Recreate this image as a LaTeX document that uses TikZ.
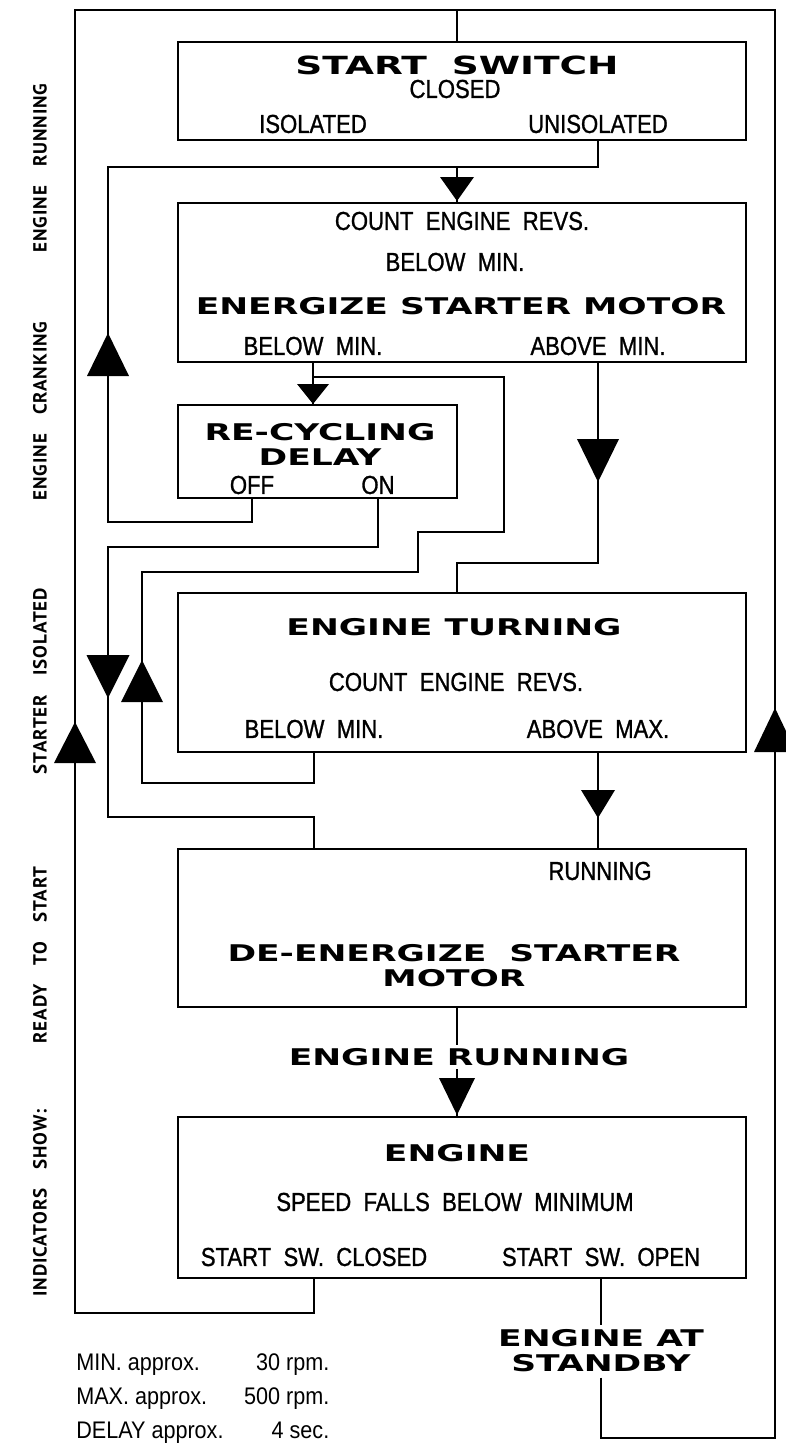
\documentclass[tikz,border=0pt]{standalone}
\usepackage{fontspec}
\usetikzlibrary{positioning}
\newfontfamily\flowfont[FakeStretch=0.85,WordSpace=2,FakeBold=1]{Liberation Sans}
\newfontfamily\headfont[FakeStretch=1.5]{DejaVu Sans}
\newfontfamily\sidefont[LetterSpace=5]{PT Sans}
\newfontfamily\notefont[FakeStretch=0.9]{Liberation Sans}

% filled flow arrows: x, base y, width, length
\newcommand{\tridown}[4]{\fill ({#1-#3/2},#2) -- ({#1+#3/2},#2) -- (#1,{#2+#4}) -- cycle;}
\newcommand{\triup}[4]{\fill ({#1-#3/2},#2) -- ({#1+#3/2},#2) -- (#1,{#2-#4}) -- cycle;}

\begin{document}
\begin{tikzpicture}[x=1pt, y=-1pt,
    line width=2.6pt,
    box/.style={draw, minimum width=568pt, inner sep=0pt},
    txt/.style={inner sep=0pt, font=\flowfont\fontsize{26}{26}\selectfont},
    head/.style={inner sep=0pt, align=center, font=\headfont\bfseries\fontsize{23}{25}\selectfont},
    side/.style={rotate=90, inner sep=0pt, font=\sidefont\bfseries\fontsize{19}{19}\selectfont}
  ]
    \useasboundingbox (0,0) rectangle (785,1445);

    % boxes
    \node[box, minimum height=98pt]  (sw)   at (462,91) {};
    \node[box, minimum height=159pt] (cnt)  at (462,282.5) {};
    \node[box, minimum width=279pt, minimum height=93pt] (rcy) at (317.5,451.5) {};
    \node[box, minimum height=159pt] (turn) at (462,672.5) {};
    \node[box, minimum height=158pt] (deen) at (462,928) {};
    \node[box, minimum height=161pt] (eng)  at (462,1197.5) {};

    % box texts
    \node[head, font=\headfont\bfseries\fontsize{25}{25}\selectfont] at (457,65) {START\quad SWITCH};
    \node[txt] at (455,89) {CLOSED};
    \node[txt] (iso)    at (313,124) {ISOLATED};
    \node[txt] (unisol) at (598,124) {UNISOLATED};

    \node[txt]  at (462,221) {COUNT ENGINE REVS.};
    \node[txt]  at (455,262) {BELOW MIN.};
    \node[head] at (461,306) {ENERGIZE STARTER MOTOR};
    \node[txt] (cbm) at (313,346) {BELOW MIN.};
    \node[txt] (cam) at (598,346) {ABOVE MIN.};

    \node[head] at (320,444) {RE-CYCLING\\DELAY};
    \node[txt] (off) at (252,485) {OFF};
    \node[txt] (on)  at (378,485) {ON};

    \node[head] at (454,627) {ENGINE TURNING};
    \node[txt]  at (456,682) {COUNT ENGINE REVS.};
    \node[txt] (tbm) at (314,729) {BELOW MIN.};
    \node[txt] (tam) at (598,729) {ABOVE MAX.};

    \node[txt] (run) at (600,871) {RUNNING};
    \node[head] at (454,966) {DE-ENERGIZE\quad STARTER\\MOTOR};

    \node[head] at (457,1153) {ENGINE};
    \node[txt]  at (455,1202) {SPEED FALLS BELOW MINIMUM};
    \node[txt] (clsd) at (314,1257) {START SW. CLOSED};
    \node[txt] (opn)  at (601,1257) {START SW. OPEN};

    \node[head, inner sep=4pt] (stby) at (601,1351) {ENGINE AT\\STANDBY};

    % corner points of the lines
    \coordinate (tl)  at (75,10);
    \coordinate (tr)  at (775,10);
    \coordinate (bl)  at (75,1313);
    \coordinate (br)  at (775,1438);
    \coordinate (mid) at (457,10);
    \coordinate (j1)  at (457,167);
    \coordinate (j2)  at (313,377);
    \coordinate (c1)  at (108,522);
    \coordinate (c2)  at (142,783);
    \coordinate (c3)  at (418,572);
    \coordinate (c4)  at (504,532);
    \coordinate (c5)  at (108,547);
    \coordinate (c6)  at (108,817);
    \coordinate (c7)  at (457,563);

    % connectors
    \draw (clsd |- eng.south) |- (bl) -- (tl) -| (mid |- sw.north);
    \draw (opn |- eng.south) -- (opn |- stby.north);
    \draw (opn |- stby.south) |- (br) -- (tr) -- (mid);
    \draw (unisol |- sw.south) |- (j1) -- (mid |- cnt.north);
    \draw (off |- rcy.south) |- (c1) |- (j1);
    \draw (cbm |- cnt.south) -- (cbm |- rcy.north);
    \draw (tbm |- turn.south) |- (c2) |- (c3) |- (c4) |- (j2);
    \draw (on |- rcy.south) |- (c5) -- (c6) -| (tbm |- deen.north);
    \draw (cam |- cnt.south) |- (c7) -- (mid |- turn.north);
    \draw (tam |- turn.south) -- (tam |- deen.north);
    \draw (mid |- deen.south) -- (mid |- eng.north);

    \node[head, fill=white, inner sep=3pt] (erun) at (459,1057) {ENGINE RUNNING};

    % arrowheads
    \triup{108}{376}{42}{43}
    \triup{75}{763}{42}{41}
    \triup{775}{752}{42}{44}
    \triup{142}{702}{42}{42}
    \tridown{108}{655}{43}{43}
    \tridown{598}{439}{42}{43}
    \tridown{457}{177}{34}{24}
    \tridown{313}{384}{32}{20}
    \tridown{598}{790}{34}{28}
    \tridown{457}{1078}{36}{37}

    % indicator labels
    \node[side] (ind1) at (40,168)  {ENGINE\quad RUNNING};
    \node[side] (ind2) at (40,411)  {ENGINE\quad CRANKING};
    \node[side] (ind3) at (40,681)  {STARTER\quad ISOLATED};
    \node[side] (ind4) at (40,955)  {READY\quad TO\quad START};
    \node[side] (ind5) at (40,1203) {INDICATORS\quad SHOW:};

    % notes
    \node[anchor=north west, inner sep=0pt, font=\notefont\fontsize{24}{34}\selectfont] (notes) at (75,1345)
      {\begin{tabular*}{253pt}{@{}l@{\extracolsep{\fill}}r@{}}
        MIN. approx. & 30 rpm.\\
        MAX. approx. & 500 rpm.\\
        DELAY approx. & 4 sec.
      \end{tabular*}};
\end{tikzpicture}
\end{document}
